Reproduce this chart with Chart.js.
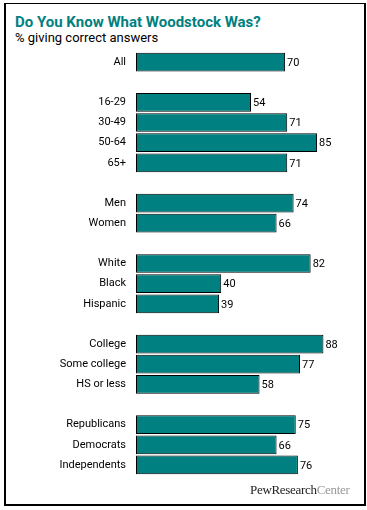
<!DOCTYPE html>
<html>
<head>
<meta charset="utf-8">
<script src="https://cdn.jsdelivr.net/npm/chart.js@4/dist/chart.umd.min.js"></script>
<style>
  html, body { margin: 0; padding: 0; background: #fff; }
  #wrap { position: relative; width: 367px; height: 510px; overflow: hidden; }
  #frame { position: absolute; left: 4px; top: 3px; width: 358px; height: 500px;
           border: 2px solid #000; border-top-width: 1px; box-sizing: content-box; }
  #title { position: absolute; left: 15px; top: 13px; font: bold 15px Roboto, sans-serif;
           color: #008080; white-space: nowrap; }
  #subtitle { position: absolute; left: 15px; top: 30px; font: 13px Roboto, sans-serif;
              color: #000; white-space: nowrap; }
  #footer { position: absolute; left: 250px; top: 482px; font: 13px "Liberation Serif", serif;
            letter-spacing: -0.3px; white-space: nowrap; }
  #footer .a { color: #222; }
  #footer .b { color: #999; }
  canvas { position: absolute; left: 0; top: 0; }
</style>
</head>
<body>
<div id="wrap">
  <div id="frame"></div>
  <div id="title">Do You Know What Woodstock Was?</div>
  <div id="subtitle">% giving correct answers</div>
  <canvas id="c" width="367" height="510"></canvas>
  <div id="footer"><span class="a">PewResearch</span><span class="b">Center</span></div>
</div>
<script>
const categories = ['All', '', '16-29', '30-49', '50-64', '65+', '', 'Men', 'Women', '',
  'White', 'Black', 'Hispanic', '', 'College', 'Some college', 'HS or less', '',
  'Republicans', 'Democrats', 'Independents'];
const values = [70, null, 54, 71, 85, 71, null, 74, 66, null,
  82, 40, 39, null, 88, 77, 58, null, 75, 66, 76];

const valueLabels = {
  id: 'valueLabels',
  afterDatasetsDraw(chart) {
    const ctx = chart.ctx;
    const meta = chart.getDatasetMeta(0);
    ctx.save();
    ctx.font = '11px Roboto, sans-serif';
    ctx.fillStyle = '#000';
    ctx.textAlign = 'left';
    ctx.textBaseline = 'middle';
    meta.data.forEach((bar, i) => {
      const v = values[i];
      if (v === null || v === undefined) return;
      ctx.fillText(String(v), bar.x + 2, bar.y + 1);
    });
    ctx.restore();
  }
};

new Chart(document.getElementById('c'), {
  type: 'bar',
  data: {
    labels: categories,
    datasets: [{
      data: values,
      backgroundColor: '#008080',
      borderColor: '#000',
      borderWidth: 1,
      borderSkipped: false,
      barPercentage: 0.93,
      categoryPercentage: 1.0
    }]
  },
  options: {
    indexAxis: 'y',
    responsive: false,
    animation: false,
    devicePixelRatio: 1,
    layout: { padding: { left: 0, top: 52, right: 18, bottom: 35 } },
    plugins: { legend: { display: false }, tooltip: { enabled: false }, title: { display: false } },
    scales: {
      x: { display: false, min: 0, max: 100 },
      y: {
        grid: { display: false, drawTicks: false },
        border: { display: false },
        ticks: { color: '#000', font: { family: 'Roboto', size: 11 }, padding: 10, autoSkip: false },
        afterFit(scale) { scale.width = 136; }
      }
    }
  },
  plugins: [valueLabels]
});
</script>
</body>
</html>
